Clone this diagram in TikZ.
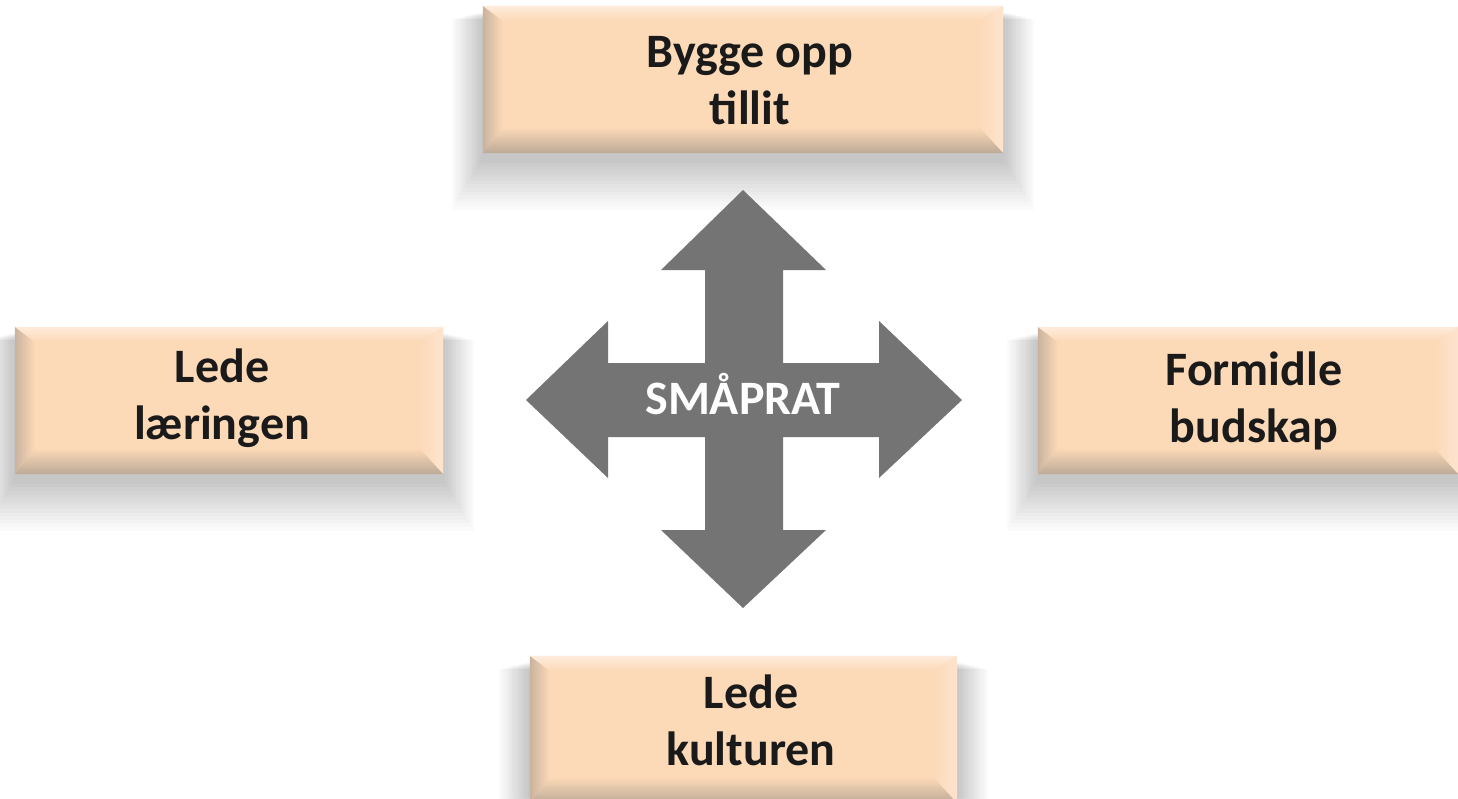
\documentclass[tikz,border=0pt]{standalone}
\usepackage{fontspec}
\newfontfamily\calfont{Carlito}
\definecolor{peach}{HTML}{FCD9B7}
\definecolor{peachlt}{HTML}{FEEBDB}
\definecolor{peachrt}{HTML}{FDE4CF}
\definecolor{bevdk}{HTML}{BCAA97}
\definecolor{bevlf}{HTML}{C9B39F}
\definecolor{txt}{HTML}{1A1A1A}
\definecolor{arrowgray}{HTML}{747474}
\tikzset{
  boxst/.style={rectangle, minimum width=#1, minimum height=147pt, fill=peach, inner sep=0pt},
  labelst/.style={align=center, text=txt, inner sep=0pt,
    font=\calfont\bfseries\fontsize{48pt}{57pt}\selectfont},
  centertext/.style={text=white, inner sep=0pt, font=\calfont\bfseries\fontsize{48pt}{52pt}\selectfont},
  shadowlayer/.style={fill=black, opacity=0.017}
}
\newcommand\softshadow[1]{%
  \foreach \i [evaluate=\i as \e using 2.2*\i, evaluate=\i as \s using 6+1.4*\i] in {1,...,14}{%
    \fill[shadowlayer] ([shift={(-\e,-0.4*\e+\s)}]#1.north west) rectangle ([shift={(\e,\e+\s)}]#1.south east);
  }%
}
\newcommand\bevel[1]{%
  \shade[left color=bevlf, right color=peach] (#1.north west) -- ([shift={(20,15)}]#1.north west) -- ([shift={(20,-26)}]#1.south west) -- (#1.south west) -- cycle;
  \shade[left color=peach, right color=peachrt] (#1.north east) -- ([shift={(-24,15)}]#1.north east) -- ([shift={(-24,-26)}]#1.south east) -- (#1.south east) -- cycle;
  \shade[top color=peachlt, bottom color=peach] (#1.north west) -- (#1.north east) -- ([shift={(-24,15)}]#1.north east) -- ([shift={(20,15)}]#1.north west) -- cycle;
  \shade[top color=peach, bottom color=bevdk] ([shift={(20,-26)}]#1.south west) -- ([shift={(-24,-26)}]#1.south east) -- (#1.south east) -- (#1.south west) -- cycle;
}
\begin{document}
\begin{tikzpicture}[x=1pt,y=-1pt]
\useasboundingbox (0,0) rectangle (1458,798);
\clip (0,0) rectangle (1458,798);
\fill[white] (0,0) rectangle (1458,798);

\coordinate (ptop) at (743,79.5);
\coordinate (pleft) at (229,400.5);
\coordinate (pright) at (1248,400.5);
\coordinate (pbottom) at (743.5,729.5);

\path (ptop) node[boxst=520pt, fill=none] (topbox) {};
\path (pleft) node[boxst=428pt, fill=none] (leftbox) {};
\path (pright) node[boxst=420pt, fill=none] (rightbox) {};
\path (pbottom) node[boxst=427pt, fill=none] (bottombox) {};
\softshadow{topbox}
\softshadow{leftbox}
\softshadow{rightbox}
\softshadow{bottombox}
\node[boxst=520pt] at (ptop) {};
\node[boxst=428pt] at (pleft) {};
\node[boxst=420pt] at (pright) {};
\node[boxst=427pt] at (pbottom) {};
\bevel{topbox}
\bevel{leftbox}
\bevel{rightbox}
\bevel{bottombox}

\node[labelst] (toptext) at (750,81) {Bygge opp\\tillit};
\node[labelst] (lefttext) at (222,398) {Lede\\læringen};
\node[labelst] (righttext) at (1254,401) {Formidle\\budskap};
\node[labelst] (bottomtext) at (751,720) {Lede\\kulturen};

\fill[arrowgray] (743,190) -- (826,270) -- (783,270) -- (783,363) -- (879,363) -- (879,321)
  -- (962,400) -- (879,478) -- (879,437) -- (783,437) -- (783,530) -- (826,530)
  -- (743,608) -- (661,530) -- (705,530) -- (705,437) -- (608,437) -- (608,478)
  -- (526,400) -- (608,321) -- (608,363) -- (705,363) -- (705,270) -- (661,270) -- cycle;
\node[centertext] (center) at (743,394) {SMÅPRAT};
\end{tikzpicture}
\end{document}
